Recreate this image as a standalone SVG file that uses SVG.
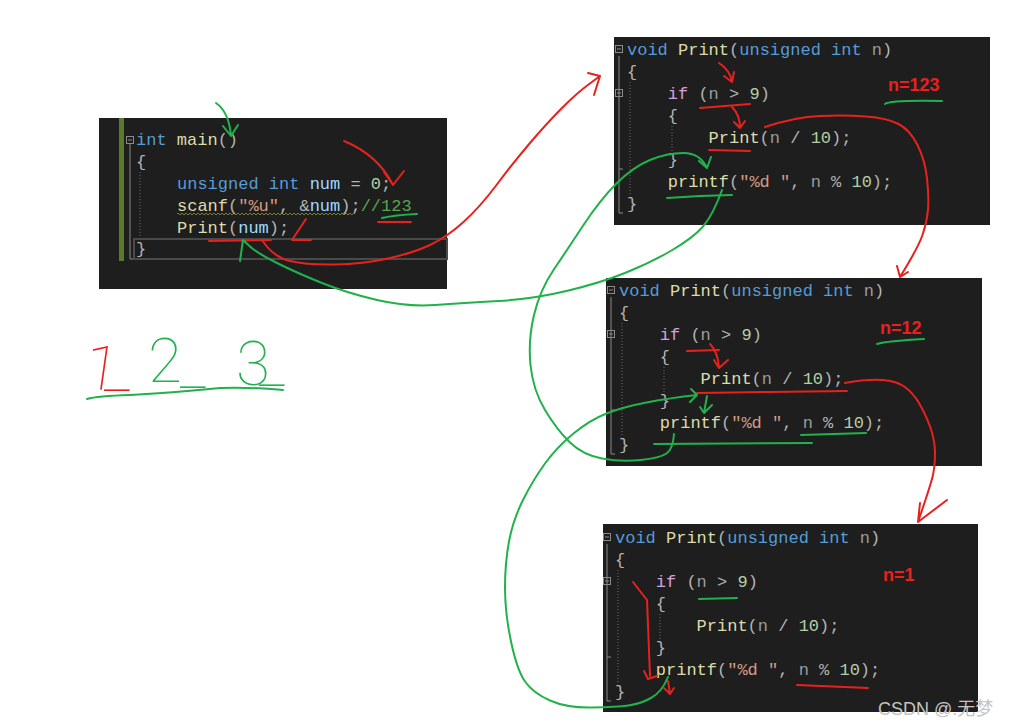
<svg xmlns="http://www.w3.org/2000/svg" width="1012" height="727" viewBox="0 0 1012 727">
<defs>
<style>
.bg{fill:#1e1e1e}
.code{font-family:"Liberation Mono","DejaVu Sans Mono",monospace;font-size:17px;fill:#b4b4b4}
.kw{fill:#569cd6}.fn{fill:#dcdcaa}.pm{fill:#9a9a9a}.nm{fill:#b5cea8}.ctl{fill:#d8a0df}.str{fill:#d69d85}.var{fill:#9cdcfe}.cmt{fill:#57a64a}
.red{stroke:#e8211d;stroke-width:2;fill:none;stroke-linecap:round;stroke-linejoin:round}
.grn{stroke:#22b14c;stroke-width:2;fill:none;stroke-linecap:round;stroke-linejoin:round}
.guide{stroke:#6a6a6a;stroke-width:1;stroke-dasharray:1 2;fill:none}
.fold{fill:none;stroke:#8a8a8a;stroke-width:1}
.lbl{font-family:"Liberation Sans",sans-serif;font-weight:bold;font-size:18px;fill:#e8211d}
.hand{font-family:Roboto,"Liberation Sans",sans-serif;font-weight:100;font-size:62px}
</style>
<pattern id="squig" width="4" height="4" patternUnits="userSpaceOnUse"><path d="M0,3 L2,1 L4,3" fill="none" stroke="#8a9a3a" stroke-width="0.8"/></pattern>
<linearGradient id="handInk" gradientUnits="userSpaceOnUse" x1="0" y1="0" x2="1012" y2="0">
<stop offset="0" stop-color="#e8211d"/><stop offset="0.1433" stop-color="#e8211d"/><stop offset="0.1433" stop-color="#22b14c"/><stop offset="1" stop-color="#22b14c"/>
</linearGradient>
</defs>
<rect width="1012" height="727" fill="#ffffff"/>

<g id="main">
<rect class="bg" x="99" y="118" width="348" height="171"/>
<rect x="119" y="118" width="5" height="143" fill="#5b7a2e"/>
<rect class="fold" x="126.5" y="136.5" width="7" height="7"/>
<path class="fold" d="M128,140 H132 M130,144 V259 H134"/>
<path class="guide" d="M140,172 V240"/>
<rect x="134" y="239" width="313" height="20" fill="none" stroke="#4a4a4a" stroke-width="2"/>
<rect x="177" y="212" width="176" height="4" fill="url(#squig)"/>
<text class="code" x="136" y="145"><tspan class="kw">int</tspan> <tspan class="fn">main</tspan>()</text>
<text class="code" x="136" y="167">{</text>
<text class="code" x="177" y="189" xml:space="preserve"><tspan class="kw">unsigned int</tspan> <tspan class="var">num</tspan> = <tspan class="nm">0</tspan>;</text>
<text class="code" x="177" y="211" xml:space="preserve"><tspan class="fn">scanf</tspan>(<tspan class="str">"%u"</tspan>, &amp;<tspan class="var">num</tspan>);<tspan class="cmt">//123</tspan></text>
<text class="code" x="177" y="233"><tspan class="fn">Print</tspan>(<tspan class="var">num</tspan>);</text>
<text class="code" x="136" y="254">}</text>
</g>

<g id="print1">
<rect class="bg" x="614" y="37" width="376" height="188"/>
<rect class="fold" x="615.5" y="45.5" width="7" height="7"/>
<rect class="fold" x="615.5" y="89.5" width="7" height="7"/>
<path class="fold" d="M617,49 H621 M617,93 H621 M619,56 V213 H623 M619,169 H623"/>
<path class="guide" d="M630,82 V196 M672,126 V152"/>
<text class="code" x="627" y="55" xml:space="preserve"><tspan class="kw">void</tspan> <tspan class="fn">Print</tspan>(<tspan class="kw">unsigned int</tspan> <tspan class="pm">n</tspan>)</text>
<text class="code" x="627" y="77">{</text>
<text class="code" x="667.8" y="99" xml:space="preserve"><tspan class="ctl">if</tspan> (<tspan class="pm">n</tspan> &gt; <tspan class="nm">9</tspan>)</text>
<text class="code" x="667.8" y="121">{</text>
<text class="code" x="708.6" y="143" xml:space="preserve"><tspan class="fn">Print</tspan>(<tspan class="pm">n</tspan> / <tspan class="nm">10</tspan>);</text>
<text class="code" x="667.8" y="165">}</text>
<text class="code" x="667.8" y="187" xml:space="preserve"><tspan class="fn">printf</tspan>(<tspan class="str">"%d "</tspan>, <tspan class="pm">n</tspan> % <tspan class="nm">10</tspan>);</text>
<text class="code" x="627" y="209">}</text>
<text class="lbl" x="888" y="91">n=123</text>
</g>

<g id="print2">
<rect class="bg" x="606" y="278" width="376" height="188"/>
<rect class="fold" x="607.5" y="286.5" width="7" height="7"/>
<rect class="fold" x="607.5" y="330.5" width="7" height="7"/>
<path class="fold" d="M609,290 H613 M609,334 H613 M611,297 V454 H615 M611,410 H615"/>
<path class="guide" d="M622,323 V437 M664,367 V393"/>
<text class="code" x="619" y="296" xml:space="preserve"><tspan class="kw">void</tspan> <tspan class="fn">Print</tspan>(<tspan class="kw">unsigned int</tspan> <tspan class="pm">n</tspan>)</text>
<text class="code" x="619" y="318">{</text>
<text class="code" x="659.8" y="340" xml:space="preserve"><tspan class="ctl">if</tspan> (<tspan class="pm">n</tspan> &gt; <tspan class="nm">9</tspan>)</text>
<text class="code" x="659.8" y="362">{</text>
<text class="code" x="700.6" y="384" xml:space="preserve"><tspan class="fn">Print</tspan>(<tspan class="pm">n</tspan> / <tspan class="nm">10</tspan>);</text>
<text class="code" x="659.8" y="406">}</text>
<text class="code" x="659.8" y="428" xml:space="preserve"><tspan class="fn">printf</tspan>(<tspan class="str">"%d "</tspan>, <tspan class="pm">n</tspan> % <tspan class="nm">10</tspan>);</text>
<text class="code" x="619" y="450">}</text>
<text class="lbl" x="880" y="334">n=12</text>
</g>

<g id="print3">
<rect class="bg" x="603" y="524" width="375" height="188"/>
<rect class="fold" x="603.5" y="533.5" width="7" height="7"/>
<rect class="fold" x="603.5" y="577.5" width="7" height="7"/>
<path class="fold" d="M605,537 H609 M605,581 H609 M607,544 V701 H611 M607,657 H611"/>
<path class="guide" d="M618,570 V684 M660,614 V640"/>
<text class="code" x="615" y="543" xml:space="preserve"><tspan class="kw">void</tspan> <tspan class="fn">Print</tspan>(<tspan class="kw">unsigned int</tspan> <tspan class="pm">n</tspan>)</text>
<text class="code" x="615" y="565">{</text>
<text class="code" x="655.8" y="587" xml:space="preserve"><tspan class="ctl">if</tspan> (<tspan class="pm">n</tspan> &gt; <tspan class="nm">9</tspan>)</text>
<text class="code" x="655.8" y="609">{</text>
<text class="code" x="696.6" y="631" xml:space="preserve"><tspan class="fn">Print</tspan>(<tspan class="pm">n</tspan> / <tspan class="nm">10</tspan>);</text>
<text class="code" x="655.8" y="653">}</text>
<text class="code" x="655.8" y="675" xml:space="preserve"><tspan class="fn">printf</tspan>(<tspan class="str">"%d "</tspan>, <tspan class="pm">n</tspan> % <tspan class="nm">10</tspan>);</text>
<text class="code" x="615" y="697">}</text>
<text class="lbl" x="883" y="581">n=1</text>
</g>

<g id="result">
<text class="hand" fill="url(#handInk)" x="82 104 148 180 236 259" y="387 389 382 386 385 384" rotate="8 0 0 0 0 0">1_2_3_</text>
<path class="grn" d="M87,399 Q97,396 130,395 Q170,393 220,388 Q250,387 283,390"/>
</g>

<g id="connectors">
<path class="grn" d="M216,103 Q229,112 231,136 M223,126 L231,136 L238,125"/>
<path class="red" d="M344,141 Q378,155 393,185 M384,172 L393,185 L404,171"/>
<path class="grn" d="M382,218 Q395,215 417,214"/>
<path class="red" d="M378,222 L411,222"/>
<path class="red" d="M306,219 L292,240 L311,240"/>
<path class="red" d="M209,241 L271,240"/>
<path class="red" d="M262,240 Q273,257 290,261 Q307,265 335,264.5 Q363,264 388,258.5 Q413,253 430,245 Q447,237 463.5,222 Q480,207 496.5,185 Q513,163 530,143 Q547,123 562,108 Q577,93 588.5,84.5 L600,76 M588,73 L600,76 L594,95"/>
<path class="grn" d="M722,190 Q713,215 703,226.5 Q693,238 671.5,250.5 Q650,263 625,273 Q600,283 566.5,291 Q533,299 498,301 Q463,303 435,305 Q407,307 377,300 Q347,293 322,283 Q297,273 277,263 Q257,253 250,246.5 L243,240 L240,261"/>
<path class="red" d="M719,63 Q730,70 732,82 M724,76 L732,82 L734,72"/>
<path class="red" d="M700,108 L750,104"/>
<path class="red" d="M732,107 Q740,115 740,128 M734,122 L740,128 L745,121"/>
<path class="red" d="M709,150 L750,151"/>
<path class="grn" d="M667,198 L700,196 L732,195"/>
<path class="grn" d="M885,104 Q890,100 942,101"/>
<path class="red" d="M765,127 Q795,117 820,116 Q845,115 866,116.5 Q887,118 898.5,124 Q910,130 917.5,145 Q925,160 927,178.5 Q929,197 928,209.5 Q927,222 922.5,235 Q918,248 900,277 M897,266 L900,277 L908,272"/>
<path class="grn" d="M674,434 Q673,449 666.5,453.5 Q660,458 640.5,460 Q621,462 602,458.5 Q583,455 570,442.5 Q557,430 545,410 Q533,390 530.5,365 Q528,340 534,315 Q540,290 553.5,270 Q567,250 583.5,225 Q600,200 616.5,183.5 Q633,167 650,160 Q667,153 683.5,153 Q700,153 707,168 M699,161 L707,168 L711,157"/>
<path class="red" d="M687,351 L719,350"/>
<path class="red" d="M710,344 Q718,352 719,368 M714,360 L719,368 L728,360"/>
<path class="red" d="M697,393 L770,392 L847,391"/>
<path class="grn" d="M707,396 L704,413 M700,407 L704,413 L712,405"/>
<path class="grn" d="M801,435 L866,433"/>
<path class="grn" d="M654,444 L812,443"/>
<path class="grn" d="M877,344 Q887,341 924,339"/>
<path class="red" d="M845,383 Q867,379 882,380 Q897,381 905,387 Q913,393 919,403 Q925,413 930,426.5 Q935,440 935,453.5 Q935,467 932.5,477 Q930,487 918,522 M920,503 L918,522 L947,500"/>
<path class="grn" d="M668,677 Q662,692 651,698 Q640,704 628.5,705.5 Q617,707 592,707.5 Q567,708 550,700.5 Q533,693 525,681.5 Q517,670 511,641.5 Q505,613 505,588 Q505,563 509,541.5 Q513,520 523,500 Q533,480 545,463.5 Q557,447 573.5,433.5 Q590,420 606.5,413.5 Q623,407 646.5,402.5 Q670,398 697,395 M691,389 L697,395 L690,402"/>
<path class="grn" d="M699,599 L737,598"/>
<path class="red" d="M633,582 L647,600 L650,676 M644,671 L648,679 L657,676"/>
<path class="red" d="M668,681 L670,694 M664,688 L670,694 L674,688"/>
<path class="red" d="M797,685 L868,688"/>
</g>

<text x="878" y="715" font-family="'Liberation Sans','Noto Sans CJK SC',sans-serif" font-size="18" fill="#c4c4c4">CSDN @.无梦</text>
</svg>
